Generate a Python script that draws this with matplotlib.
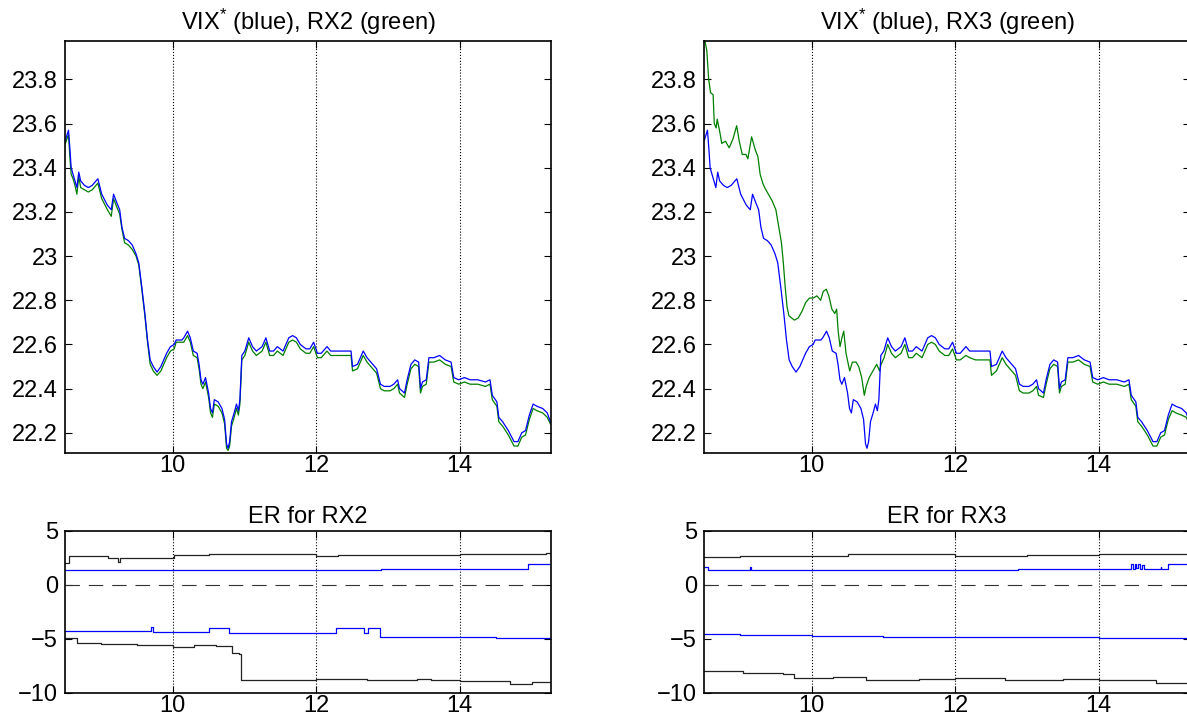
import numpy as np
import matplotlib
matplotlib.use('Agg')
import matplotlib.pyplot as plt
from matplotlib.ticker import FormatStrFormatter

plt.rcParams['font.family'] = ['Liberation Sans', 'DejaVu Sans']
plt.rcParams['mathtext.fontset'] = 'custom'
plt.rcParams['mathtext.rm'] = 'Liberation Sans'
plt.rcParams['mathtext.it'] = 'Liberation Sans'

# VIX* (blue) - time of day in hours
vix_t = [8.505, 8.548, 8.569, 8.585, 8.612, 8.638, 8.665, 8.691, 8.718, 8.771,
         8.824, 8.878, 8.957, 9.011, 9.090, 9.144, 9.176, 9.223, 9.261, 9.293,
         9.330, 9.383, 9.436, 9.489, 9.527, 9.569, 9.612, 9.649, 9.686, 9.729,
         9.782, 9.835, 9.915, 9.968, 10.021, 10.048, 10.128, 10.154, 10.207, 10.245,
         10.287, 10.340, 10.367, 10.394, 10.420, 10.457, 10.500, 10.527, 10.553, 10.580,
         10.633, 10.686, 10.723, 10.750, 10.771, 10.793, 10.819, 10.856, 10.888, 10.915,
         10.936, 10.963, 11.005, 11.059, 11.112, 11.165, 11.245, 11.298, 11.351, 11.404,
         11.457, 11.537, 11.617, 11.670, 11.723, 11.777, 11.856, 11.910, 11.963, 12.016,
         12.069, 12.149, 12.202, 12.282, 12.388, 12.484, 12.505, 12.574, 12.654, 12.707,
         12.787, 12.840, 12.894, 12.947, 13.027, 13.080, 13.133, 13.160, 13.229, 13.266,
         13.319, 13.372, 13.426, 13.452, 13.479, 13.532, 13.569, 13.638, 13.718, 13.798,
         13.878, 13.915, 13.984, 14.064, 14.144, 14.250, 14.356, 14.420, 14.452, 14.516,
         14.543, 14.596, 14.676, 14.755, 14.809, 14.862, 14.915, 14.968, 15.021, 15.074,
         15.154, 15.218, 15.261]
vix = [23.525, 23.57, 23.48, 23.40, 23.37, 23.34, 23.31, 23.38, 23.34, 23.32,
       23.31, 23.32, 23.35, 23.28, 23.23, 23.21, 23.28, 23.24, 23.21, 23.13,
       23.08, 23.07, 23.05, 23.01, 22.97, 22.86, 22.74, 22.62, 22.53, 22.50,
       22.475, 22.50, 22.56, 22.59, 22.60, 22.62, 22.62, 22.63, 22.66, 22.63,
       22.57, 22.56, 22.51, 22.44, 22.42, 22.45, 22.38, 22.31, 22.29, 22.35,
       22.34, 22.31, 22.26, 22.15, 22.13, 22.16, 22.25, 22.29, 22.33, 22.30,
       22.35, 22.55, 22.57, 22.63, 22.59, 22.57, 22.59, 22.63, 22.57, 22.57,
       22.59, 22.57, 22.63, 22.64, 22.63, 22.60, 22.58, 22.58, 22.61, 22.56,
       22.56, 22.59, 22.57, 22.57, 22.57, 22.57, 22.50, 22.51, 22.57, 22.54,
       22.51, 22.49, 22.42, 22.41, 22.41, 22.42, 22.44, 22.40, 22.38, 22.44,
       22.51, 22.53, 22.52, 22.40, 22.43, 22.44, 22.54, 22.54, 22.55, 22.53,
       22.52, 22.45, 22.44, 22.45, 22.44, 22.44, 22.43, 22.44, 22.37, 22.34,
       22.27, 22.25, 22.21, 22.16, 22.16, 22.20, 22.21, 22.28, 22.33, 22.32,
       22.31, 22.29, 22.25]
# RX2 (green), same times as VIX*
rx2 = [23.51, 23.55, 23.44, 23.37, 23.35, 23.32, 23.28, 23.36, 23.31, 23.30,
       23.29, 23.30, 23.33, 23.26, 23.21, 23.18, 23.26, 23.22, 23.19, 23.12,
       23.06, 23.05, 23.03, 23.00, 22.96, 22.85, 22.73, 22.61, 22.51, 22.48,
       22.46, 22.48, 22.54, 22.57, 22.58, 22.61, 22.61, 22.61, 22.64, 22.61,
       22.55, 22.54, 22.49, 22.42, 22.40, 22.43, 22.36, 22.29, 22.27, 22.33,
       22.32, 22.29, 22.24, 22.13, 22.12, 22.14, 22.23, 22.27, 22.31, 22.28,
       22.33, 22.53, 22.55, 22.61, 22.57, 22.55, 22.57, 22.61, 22.55, 22.55,
       22.57, 22.55, 22.61, 22.62, 22.61, 22.58, 22.56, 22.56, 22.59, 22.54,
       22.54, 22.57, 22.55, 22.55, 22.55, 22.55, 22.48, 22.49, 22.55, 22.52,
       22.49, 22.47, 22.40, 22.39, 22.39, 22.40, 22.42, 22.38, 22.36, 22.42,
       22.49, 22.51, 22.50, 22.38, 22.41, 22.42, 22.52, 22.52, 22.53, 22.51,
       22.50, 22.43, 22.42, 22.43, 22.42, 22.42, 22.41, 22.42, 22.35, 22.32,
       22.25, 22.23, 22.19, 22.14, 22.14, 22.18, 22.19, 22.26, 22.31, 22.30,
       22.29, 22.27, 22.24]
# RX3 (green)
rx3_t = [8.513, 8.539, 8.565, 8.591, 8.627, 8.643, 8.669, 8.684, 8.721, 8.747,
         8.799, 8.851, 8.903, 8.955, 8.991, 9.033, 9.085, 9.111, 9.163, 9.215,
         9.251, 9.282, 9.319, 9.345, 9.397, 9.449, 9.501, 9.542, 9.579, 9.605,
         9.631, 9.657, 9.683, 9.719, 9.761, 9.813, 9.865, 9.917, 9.969, 10.021,
         10.073, 10.125, 10.161, 10.203, 10.239, 10.281, 10.322, 10.348, 10.369, 10.395,
         10.421, 10.447, 10.478, 10.530, 10.567, 10.619, 10.655, 10.697, 10.733, 10.759,
         10.801, 10.853, 10.905, 10.946, 10.967, 11.009, 11.059, 11.112, 11.165, 11.245,
         11.298, 11.351, 11.404, 11.457, 11.537, 11.617, 11.670, 11.723, 11.777, 11.856,
         11.910, 11.963, 12.016, 12.069, 12.149, 12.202, 12.282, 12.388, 12.484, 12.505,
         12.574, 12.654, 12.707, 12.787, 12.840, 12.894, 12.947, 13.027, 13.080, 13.133,
         13.160, 13.229, 13.266, 13.319, 13.372, 13.426, 13.452, 13.479, 13.532, 13.569,
         13.638, 13.718, 13.798, 13.878, 13.915, 13.984, 14.064, 14.144, 14.250, 14.356,
         14.420, 14.452, 14.516, 14.543, 14.596, 14.676, 14.755, 14.809, 14.862, 14.915,
         14.968, 15.021, 15.074, 15.154, 15.218, 15.261]
rx3 = [23.975, 23.93, 23.80, 23.74, 23.73, 23.60, 23.58, 23.62, 23.56, 23.51,
       23.52, 23.49, 23.53, 23.59, 23.52, 23.46, 23.46, 23.44, 23.54, 23.48,
       23.45, 23.37, 23.33, 23.31, 23.28, 23.25, 23.21, 23.13, 23.06, 22.97,
       22.86, 22.77, 22.73, 22.72, 22.71, 22.72, 22.75, 22.79, 22.81, 22.81,
       22.82, 22.80, 22.84, 22.85, 22.82, 22.76, 22.74, 22.76, 22.66, 22.59,
       22.63, 22.66, 22.56, 22.48, 22.52, 22.52, 22.50, 22.45, 22.37, 22.41,
       22.45, 22.48, 22.51, 22.48, 22.51, 22.54, 22.60, 22.56, 22.54, 22.56,
       22.60, 22.54, 22.54, 22.56, 22.54, 22.60, 22.61, 22.60, 22.57, 22.55,
       22.55, 22.58, 22.53, 22.53, 22.55, 22.54, 22.53, 22.53, 22.53, 22.46,
       22.48, 22.54, 22.51, 22.48, 22.46, 22.39, 22.38, 22.38, 22.39, 22.41,
       22.37, 22.36, 22.42, 22.49, 22.51, 22.50, 22.38, 22.41, 22.42, 22.52,
       22.52, 22.53, 22.51, 22.50, 22.43, 22.42, 22.43, 22.42, 22.42, 22.41,
       22.42, 22.35, 22.32, 22.25, 22.23, 22.19, 22.14, 22.14, 22.18, 22.19,
       22.26, 22.30, 22.29, 22.28, 22.27, 22.24]

# ER for RX2 (step series)
er2_hi_k_t = [8.5, 8.55, 9.10, 9.24, 9.26, 10.02, 10.5, 11.0, 12.0, 12.3, 13.0, 14.0, 14.6, 15.2, 15.27]
er2_hi_k = [2.05, 2.67, 2.45, 2.1, 2.45, 2.75, 2.85, 2.88, 2.72, 2.75, 2.8, 2.88, 2.88, 2.95, 2.97]
er2_hi_b_t = [8.5, 10.0, 11.0, 12.0, 12.9, 14.0, 14.95, 15.27]
er2_hi_b = [1.4, 1.38, 1.38, 1.4, 1.45, 1.45, 1.97, 1.97]
er2_lo_b_t = [8.5, 9.0, 9.70, 9.72, 10.0, 10.5, 10.78, 12.28, 12.66, 12.72, 12.89, 13.5, 14.5, 15.27]
er2_lo_b = [-4.24, -4.3, -3.94, -4.36, -4.38, -3.97, -4.45, -3.97, -4.45, -3.97, -4.79, -4.82, -4.9, -4.97]
er2_lo_k_t = [8.5, 8.66, 9.0, 9.5, 10.0, 10.3, 10.6, 10.82, 10.93, 10.95, 11.5, 12.0, 12.7,
              13.4, 13.6, 14.0, 14.7, 15.0, 15.27]
er2_lo_k = [-4.97, -5.36, -5.45, -5.6, -5.73, -5.6, -5.7, -6.33, -6.42, -8.85, -8.8, -8.72, -8.85,
            -8.75, -8.85, -8.9, -9.15, -9.02, -9.0]

# ER for RX3 (step series)
er3_hi_k_t = [8.5, 9.0, 9.5, 10.5, 12.0, 12.5, 13.0, 14.0, 15.0, 15.27]
er3_hi_k = [2.6, 2.65, 2.72, 2.88, 2.67, 2.7, 2.76, 2.82, 2.91, 2.92]
er3_hi_b_t = [8.5, 8.55, 9.14, 9.16, 12.88, 14.45, 14.47, 14.50, 14.52, 14.55, 14.57,
              14.60, 14.63, 14.65, 14.86, 14.87, 14.96, 15.27]
er3_hi_b = [1.67, 1.39, 1.67, 1.39, 1.48, 1.9, 1.5, 1.9, 1.55, 1.9, 1.5,
            1.85, 1.5, 1.5, 1.62, 1.5, 1.97, 1.97]
er3_lo_b_t = [8.5, 9.0, 10.0, 11.0, 12.0, 13.0, 14.0, 15.0, 15.27]
er3_lo_b = [-4.6, -4.65, -4.73, -4.85, -4.85, -4.87, -4.9, -4.97, -4.98]
er3_lo_k_t = [8.5, 9.05, 9.6, 9.75, 10.3, 10.75, 11.5, 12.0, 12.7, 13.5, 14.0, 14.8, 15.27]
er3_lo_k = [-7.95, -8.18, -8.3, -8.6, -8.55, -8.85, -8.76, -8.67, -8.85, -8.75, -8.8, -9.1, -9.03]

xlim = (8.5, 15.27)
fs = 17


def style(ax):
    ax.set_xlim(*xlim)
    ax.set_xticks([10, 12, 14])
    ax.grid(True, axis='x', linestyle=':', color='k', linewidth=0.8)
    ax.tick_params(direction='in', top=True, right=True, length=5, labelsize=fs, width=0.8)
    ax.tick_params(axis='y', pad=5)
    ax.tick_params(axis='x', pad=2)
    for s in ax.spines.values():
        s.set_linewidth(1.2)


fig = plt.figure(figsize=(11.87, 7.19), dpi=100)

top_l = fig.add_axes([0.0548, 0.3704, 0.4094, 0.573])
top_r = fig.add_axes([0.5931, 0.3704, 0.4094, 0.573])
bot_l = fig.add_axes([0.0548, 0.0366, 0.4094, 0.2249])
bot_r = fig.add_axes([0.5931, 0.0366, 0.4094, 0.2249])

for ax, gt, gv, name in [(top_l, vix_t, rx2, 'RX2'), (top_r, rx3_t, rx3, 'RX3')]:
    ax.plot(gt, gv, color=(0, 0.5, 0), lw=0.9)
    ax.plot(vix_t, vix, color='b', lw=0.9)
    style(ax)
    ax.set_ylim(22.11, 23.975)
    ax.set_yticks([22.2, 22.4, 22.6, 22.8, 23.0, 23.2, 23.4, 23.6, 23.8])
    ax.yaxis.set_major_formatter(FormatStrFormatter('%g'))
    ax.set_title('VIX$^{*}$ (blue), ' + name + ' (green)', fontsize=fs, pad=8)

er_sets = [
    (bot_l, 'RX2', [(er2_hi_k_t, er2_hi_k, '#222222'), (er2_hi_b_t, er2_hi_b, 'b'),
                    (er2_lo_b_t, er2_lo_b, 'b'), (er2_lo_k_t, er2_lo_k, '#222222')]),
    (bot_r, 'RX3', [(er3_hi_k_t, er3_hi_k, '#222222'), (er3_hi_b_t, er3_hi_b, 'b'),
                    (er3_lo_b_t, er3_lo_b, 'b'), (er3_lo_k_t, er3_lo_k, '#222222')]),
]
for ax, name, lines in er_sets:
    for t, v, c in lines:
        ax.plot(t, v, color=c, lw=0.9, drawstyle='steps-post')
    ax.axhline(0, color='#333333', linestyle=(0, (13, 8)), lw=0.8)
    style(ax)
    ax.set_ylim(-10, 5)
    ax.set_yticks([-10, -5, 0, 5])
    ax.set_title('ER for ' + name, fontsize=fs, pad=6)

fig.savefig('out.png', dpi=100)
